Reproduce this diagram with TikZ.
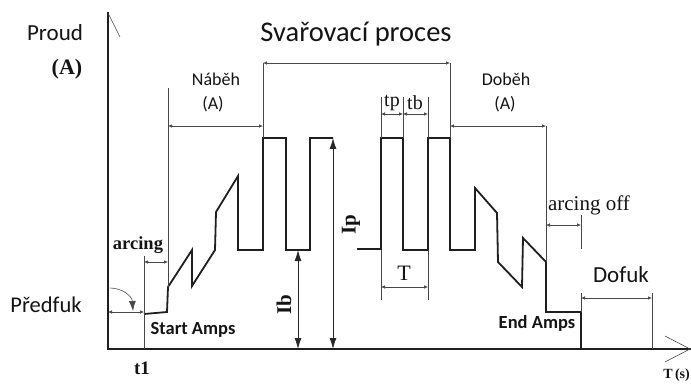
\documentclass[tikz,border=0pt]{standalone}
\usepackage{fontspec}
\setmainfont{Liberation Serif}
\newfontfamily\calfont{Carlito}
\usetikzlibrary{arrows.meta}
\newcommand\fsz[1]{\fontsize{#1}{#1}\selectfont}
\begin{document}
\begin{tikzpicture}[x=1pt,y=-1pt,
  wave/.style={line width=1.8pt, line join=miter, color=black!88},
  axis/.style={line width=2.8pt, color=black!88},
  dim/.style={line width=0.6pt, color=black!72},
  dimarr/.style={dim, {Latex[length=4pt,width=3.5pt]}-{Latex[length=4pt,width=3.5pt]}},
  bigarr/.style={line width=0.8pt, color=black!85, {Latex[length=11pt,width=7pt]}-{Latex[length=11pt,width=7pt]}},
  lbl/.style={inner sep=0pt, text=black!92},
  sanslbl/.style={lbl, font=\calfont\fsz{#1}},
  sansbold/.style={lbl, font=\calfont\bfseries\fsz{#1}},
  seriflbl/.style={lbl, font=\fsz{#1}},
  serifbold/.style={lbl, font=\bfseries\fsz{#1}}
]
\useasboundingbox (0,0) rectangle (691,385);

% axes
\draw[axis, line join=miter] (108,12) -- (108,349) -- (691,349);
\draw[dim] (108,13) -- (120,37);
\draw[dim] (665,336) -- (690,349) -- (665,362);

% waveform
\draw[wave] (144,314) -- (167,312) -- (168,287) -- (192,250) -- (192,286) -- (215,250) -- (216,212) -- (238,176) -- (238,250) -- (263,250) -- (263,138) -- (286,138) -- (286,250) -- (310,250) -- (310,138) -- (333,138);
\draw[wave] (357,249) -- (381,249) -- (381,138) -- (403,138) -- (403,250) -- (428,250) -- (428,138) -- (450,138) -- (450,250) -- (475,250) -- (475,188) -- (497,213) -- (498,262) -- (522,287) -- (523,238) -- (546,262) -- (546,312) -- (581,312) -- (581,349);

% extension lines
\draw[dim] (144,349) -- (144,256);
\draw[dim] (168,88) -- (168,287);
\draw[dim] (263,63) -- (263,138);
\draw[dim] (450,63) -- (450,138);
\draw[dim] (546,126) -- (546,262);
\draw[dim] (581,215) -- (581,249);
\draw[dim] (581,293) -- (581,312);
\draw[dim] (652,293) -- (652,349);
\draw[dim] (381,97) -- (381,138);
\draw[dim] (403,97) -- (403,138);
\draw[dim] (428,97) -- (428,138);
\draw[dim] (381,250) -- (381,300);
\draw[dim] (428,250) -- (428,300);

% dimension arrows
\draw[dimarr] (108,312) -- (144,312);
\draw[dimarr] (144,262) -- (168,262);
\draw[dimarr] (168,126) -- (263,126);
\draw[dimarr] (263,63) -- (450,63);
\draw[dimarr] (450,126) -- (546,126);
\draw[dimarr] (546,225) -- (581,225);
\draw[dimarr] (581,298) -- (652,298);
\draw[dimarr] (381,114) -- (403,114);
\draw[dimarr] (403,114) -- (428,114);
\draw[dimarr] (381,287) -- (428,287);

% Ib / Ip
\draw[bigarr] (298,250) -- (298,349);
\draw[bigarr] (333,138) -- (333,349);

% Predfuk arc
\draw[dim, -{Latex[length=10pt,width=7pt]}] (110,288) .. controls (122,288) and (132,296) .. (133,311);

% labels
\node[sanslbl=23] (proud) at (55,33) {Proud};
\node[serifbold=22] (unitA) at (67,69) {(A)};
\node[sanslbl=28.5] (title) at (356,34) {Svařovací proces};
\node[sanslbl=18] (nabeh) at (216,79) {Náběh};
\node[sanslbl=18] (nabehA) at (213,104) {(A)};
\node[sanslbl=18] (dobeh) at (506,79) {Doběh};
\node[sanslbl=18] (dobehA) at (505,104) {(A)};
\node[sanslbl=22.5] (predfuk) at (46,305) {Předfuk};
\node[sanslbl=23] (dofuk) at (621,275) {Dofuk};
\node[sansbold=18.5] (startamps) at (193,330) {Start Amps};
\node[sansbold=18.5] (endamps) at (537,323) {End Amps};
\node[serifbold=19] (t1) at (142,368) {t1};
\node[serifbold=18.5] (arcing) at (138,245) {arcing};
\node[seriflbl=21] (arcoff) at (589,205) {arcing off};
\node[serifbold=21, rotate=90] (Ip) at (351,225) {Ip};
\node[serifbold=21, rotate=90] (Ib) at (284,305) {Ib};
\node[seriflbl=20] (tp) at (392,103) {tp};
\node[seriflbl=20] (tb) at (415,103) {tb};
\node[seriflbl=22] (T) at (404,273) {T};
\node[serifbold=14, anchor=north east] (Ts) at (690,369) {T\,(s)};
\end{tikzpicture}
\end{document}
